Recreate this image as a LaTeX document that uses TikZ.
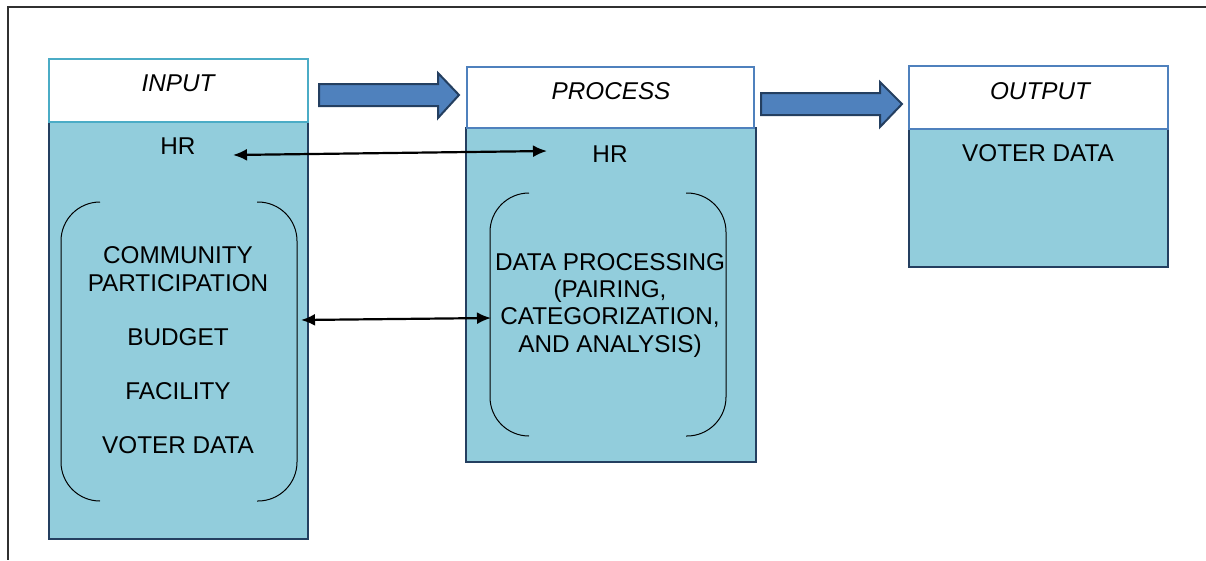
\documentclass[tikz,border=0pt]{standalone}
\usepackage{fontspec}
\setmainfont{Liberation Sans}
\usetikzlibrary{arrows.meta}
\definecolor{bodyfill}{HTML}{92CDDC}
\definecolor{navy}{HTML}{243F60}
\definecolor{aqua}{HTML}{4BACC6}
\definecolor{steel}{HTML}{4F81BD}
\definecolor{frame}{HTML}{303030}
\tikzset{
  bodybox/.style={draw=navy, fill=bodyfill, line width=2.2pt, anchor=north west, inner sep=0pt},
  headbox/.style={draw=steel, fill=white, line width=2.2pt, anchor=north west, inner sep=0pt},
  lbl/.style={font=\fontsize{24.3}{28}\selectfont, anchor=base, inner sep=0pt, align=center},
  hlbl/.style={font=\fontsize{24.3}{28}\selectfont\itshape, anchor=base, inner sep=0pt},
  bracket/.style={draw=black, line width=1pt},
  dbl/.style={line width=2.2pt, {Latex[length=14pt,width=12pt]}-{Latex[length=14pt,width=12pt]}},
  block/.style={fill=steel, draw=navy, line width=2pt, line join=miter}
}
\begin{document}
\begin{tikzpicture}[x=1pt,y=-1pt]
\useasboundingbox (0,0) rectangle (1206,560);
% outer frame
\draw[frame, line width=2.6pt] (1206,7) -- (8,7) -- (8,560);

% INPUT
\node[bodybox, minimum width=259pt, minimum height=417pt] (inbody) at (48,121) {};
\node[headbox, draw=aqua, minimum width=259pt, minimum height=63pt] (inhead) at (48,58) {};
\node[hlbl] (intitle) at (178,91) {INPUT};
\node[lbl] (inhr) at (178,154) {HR};
\node[lbl] (incomm) at (178,291) {COMMUNITY\\PARTICIPATION};
\node[lbl] (inbudget) at (178,345) {BUDGET};
\node[lbl] (infac) at (178,399) {FACILITY};
\node[lbl] (invoter) at (178,453) {VOTER DATA};
\draw[bracket, rounded corners=39pt] (100,202) -| (61,501) -- (100,501);
\draw[bracket, rounded corners=39pt] (257,202) -| (297,501) -- (257,501);

% PROCESS
\node[bodybox, minimum width=290pt, minimum height=334pt] (prbody) at (465,127) {};
\node[headbox, minimum width=287pt, minimum height=61pt] (prhead) at (466,66) {};
\node[hlbl] (prtitle) at (611,99) {PROCESS};
\node[lbl] (prhr) at (610,162) {HR};
\node[lbl, font=\fontsize{24.3}{27.3}\selectfont] (prdata) at (610,352) {DATA PROCESSING\\(PAIRING,\\CATEGORIZATION,\\AND ANALYSIS)};
\draw[bracket, rounded corners=39pt] (529,193) -| (490,436) -- (529,436);
\draw[bracket, rounded corners=39pt] (686,193) -| (726,436) -- (686,436);

% OUTPUT
\node[bodybox, minimum width=259pt, minimum height=138pt] (outbody) at (908,128) {};
\node[headbox, minimum width=259pt, minimum height=63pt] (outhead) at (908,65) {};
\node[hlbl] (outtitle) at (1040,99) {OUTPUT};
\node[lbl] (outvoter) at (1038,161) {VOTER DATA};

% block arrows
\draw[block] (319,84) -- (438,84) -- (438,73) -- (459,95) -- (438,118) -- (438,106) -- (319,106) -- cycle;
\draw[block] (761,93) -- (880,93) -- (880,82) -- (902,104) -- (880,127) -- (880,115) -- (761,115) -- cycle;

% double arrows
\coordinate (hrL) at (233,155);
\coordinate (hrR) at (547,151);
\coordinate (mdL) at (301,320);
\coordinate (mdR) at (491,318);
\draw[dbl] (hrL) -- (hrR);
\draw[dbl] (mdL) -- (mdR);
\end{tikzpicture}
\end{document}
